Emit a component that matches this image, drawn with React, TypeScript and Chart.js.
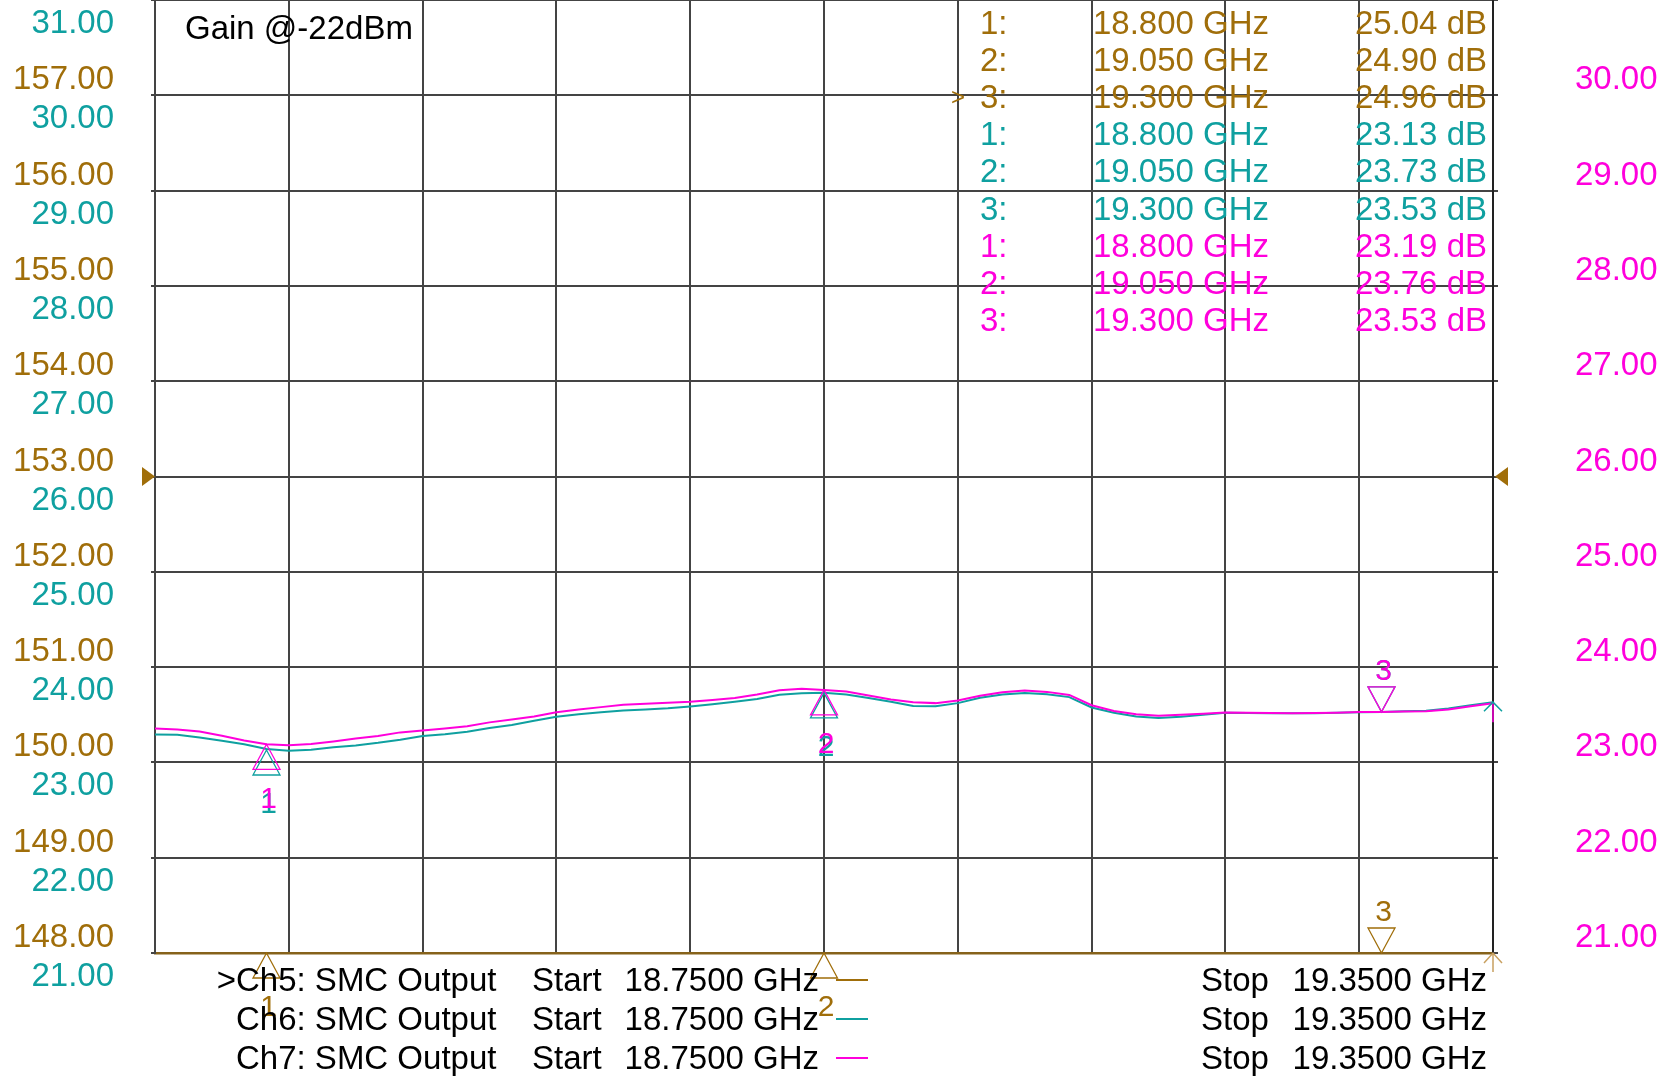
import { useEffect, useRef } from 'react';
import { Chart, registerables } from 'chart.js';

Chart.register(...registerables);

// ---------- data ----------
const freqGHz = [
  18.75, 18.76, 18.77, 18.78, 18.79, 18.80, 18.81, 18.82, 18.83, 18.84,
  18.85, 18.86, 18.87, 18.88, 18.89, 18.90, 18.91, 18.92, 18.93, 18.94,
  18.95, 18.96, 18.97, 18.98, 18.99, 19.00, 19.01, 19.02, 19.03, 19.04,
  19.05, 19.06, 19.07, 19.08, 19.09, 19.10, 19.11, 19.12, 19.13, 19.14,
  19.15, 19.16, 19.17, 19.18, 19.19, 19.20, 19.21, 19.22, 19.23, 19.24,
  19.25, 19.26, 19.27, 19.28, 19.29, 19.30, 19.31, 19.32, 19.33, 19.34,
  19.35,
];
const ch6GainDb = [
  23.293, 23.290, 23.262, 23.226, 23.190, 23.140, 23.122, 23.133, 23.158, 23.178,
  23.205, 23.238, 23.278, 23.296, 23.322, 23.360, 23.392, 23.438, 23.480, 23.505,
  23.527, 23.545, 23.556, 23.568, 23.587, 23.610, 23.636, 23.666, 23.710, 23.726,
  23.730, 23.713, 23.676, 23.636, 23.592, 23.590, 23.622, 23.678, 23.712, 23.727,
  23.715, 23.685, 23.576, 23.520, 23.482, 23.466, 23.480, 23.500, 23.522, 23.519,
  23.517, 23.516, 23.517, 23.520, 23.527, 23.530, 23.536, 23.542, 23.566, 23.600,
  23.632,
];
const ch7GainDb = [
  23.356, 23.345, 23.325, 23.280, 23.230, 23.190, 23.180, 23.194, 23.220, 23.250,
  23.277, 23.315, 23.335, 23.356, 23.380, 23.420, 23.450, 23.482, 23.526, 23.556,
  23.580, 23.604, 23.616, 23.625, 23.636, 23.655, 23.676, 23.712, 23.756, 23.772,
  23.760, 23.745, 23.702, 23.660, 23.630, 23.622, 23.650, 23.700, 23.736, 23.755,
  23.740, 23.708, 23.600, 23.540, 23.505, 23.490, 23.500, 23.510, 23.524, 23.520,
  23.518, 23.517, 23.518, 23.521, 23.528, 23.530, 23.535, 23.538, 23.556, 23.590,
  23.622,
];
const xGridTicks = [18.75, 18.81, 18.87, 18.93, 18.99, 19.05, 19.11, 19.17, 19.23, 19.29, 19.35];
const dbTicks = [21, 22, 23, 24, 25, 26, 27, 28, 29, 30, 31];
const ch5Ticks = [148, 149, 150, 151, 152, 153, 154, 155, 156, 157, 158];
const refLevelDb = 26;

const markerFreqs = [18.8, 19.05, 19.3];
const ch5Markers = [25.04, 24.9, 24.96];
const ch6Markers = [23.13, 23.73, 23.53];
const ch7Markers = [23.19, 23.76, 23.53];
const activeMarker = 3;

const titleText = 'Gain @-22dBm';
const channelNames = ['Ch5: SMC Output', 'Ch6: SMC Output', 'Ch7: SMC Output'];
const activeChannel = 0;
const startGHz = 18.75;
const stopGHz = 19.35;

// ---------- styles ----------
const FONT = '"Liberation Sans", Arial, sans-serif';
const TEAL = '#0fa0a0';
const MAG = '#ff00dc';
const BROWN = '#a06e0a';
const BROWN_AXIS = '#86621a';
const GRID = '#444444';

const overlay = {
  id: 'vnaOverlay',
  afterLayout(chart: any) {
    // let the Ch5 axis share the Ch6 axis' box so its labels are not clipped away
    const s5 = chart.scales.y5;
    const sT = chart.scales.y;
    if (s5 && sT) {
      s5.left = sT.left;
      s5.right = sT.right;
      s5.width = sT.right - sT.left;
    }
  },
  afterDraw(chart: any) {
    const ctx: CanvasRenderingContext2D = chart.ctx;
    const xs = chart.scales.x;
    const yT = chart.scales.y;
    const yM = chart.scales.yM;
    const y5 = chart.scales.y5;
    const area = chart.chartArea;
    ctx.save();
    ctx.textBaseline = 'middle';

    // title
    ctx.font = `33px ${FONT}`;
    ctx.fillStyle = '#000';
    ctx.textAlign = 'left';
    ctx.fillText(titleText, 185, 30);

    // marker table
    const groups = [
      { c: BROWN, v: ch5Markers },
      { c: TEAL, v: ch6Markers },
      { c: MAG, v: ch7Markers },
    ];
    let row = 0;
    groups.forEach((g, gi) => {
      g.v.forEach((val, i) => {
        const y = 24.5 + row * 37.2;
        ctx.font = `33px ${FONT}`;
        ctx.fillStyle = g.c;
        ctx.textAlign = 'left';
        ctx.fillText(`${i + 1}:`, 980, y);
        ctx.fillText(`${markerFreqs[i].toFixed(3)} GHz`, 1093, y);
        ctx.textAlign = 'right';
        ctx.fillText(`${val.toFixed(2)} dB`, 1487, y);
        if (gi === activeChannel && i === activeMarker - 1) {
          ctx.font = `24px ${FONT}`;
          ctx.textAlign = 'left';
          ctx.fillText('>', 951, y - 1);
        }
        row++;
      });
    });

    // reference level arrows
    const yRef = yT.getPixelForValue(refLevelDb);
    ctx.fillStyle = BROWN;
    ctx.beginPath();
    ctx.moveTo(area.left - 13, yRef - 9.5);
    ctx.lineTo(area.left - 13, yRef + 9.5);
    ctx.lineTo(area.left, yRef);
    ctx.closePath();
    ctx.fill();
    ctx.beginPath();
    ctx.moveTo(area.right + 15, yRef - 9.5);
    ctx.lineTo(area.right + 15, yRef + 9.5);
    ctx.lineTo(area.right + 2, yRef);
    ctx.closePath();
    ctx.fill();

    // markers
    const tri = (x: number, yA: number, up: boolean, color: string) => {
      const h = 25, w = 13.5;
      const yb = up ? yA + h : yA - h;
      ctx.beginPath();
      ctx.moveTo(x, yA);
      ctx.lineTo(x - w, yb);
      ctx.lineTo(x + w, yb);
      ctx.closePath();
      ctx.strokeStyle = color;
      ctx.lineWidth = 1.3;
      ctx.stroke();
    };
    const drawMarkers = (vals: number[], scale: any, color: string) => {
      vals.forEach((v, i) => {
        const x = xs.getPixelForValue(markerFreqs[i]);
        let y = scale.getPixelForValue(v);
        y = Math.max(area.top, Math.min(area.bottom, y));
        const up = i !== activeMarker - 1;
        tri(x, y, up, color);
        ctx.font = `30px ${FONT}`;
        ctx.fillStyle = color;
        ctx.textAlign = 'center';
        ctx.fillText(String(i + 1), x + 2, up ? y + 55 : y - 40);
      });
    };
    drawMarkers(ch5Markers, y5, BROWN);
    drawMarkers(ch6Markers, yT, TEAL);
    drawMarkers(ch7Markers, yM, MAG);

    // end-of-trace indicators
    const last = freqGHz.length - 1;
    const ex = xs.getPixelForValue(freqGHz[last]);
    const ey = yT.getPixelForValue(ch6GainDb[last]);
    ctx.lineWidth = 1.5;
    ctx.strokeStyle = MAG;
    ctx.beginPath();
    ctx.moveTo(ex, ey);
    ctx.lineTo(ex, ey + 20);
    ctx.stroke();
    ctx.strokeStyle = TEAL;
    ctx.beginPath();
    ctx.moveTo(ex - 9, ey + 9);
    ctx.lineTo(ex, ey);
    ctx.lineTo(ex + 9, ey + 9);
    ctx.stroke();
    ctx.strokeStyle = '#c8a060';
    ctx.beginPath();
    ctx.moveTo(ex - 9, area.bottom + 10);
    ctx.lineTo(ex, area.bottom);
    ctx.lineTo(ex + 9, area.bottom + 10);
    ctx.moveTo(ex, area.bottom);
    ctx.lineTo(ex, area.bottom + 19);
    ctx.stroke();

    // bottom channel text
    const rowsY = [982, 1021, 1060];
    const colors = [BROWN, TEAL, MAG];
    channelNames.forEach((name, i) => {
      const y = rowsY[i];
      ctx.font = `33px ${FONT}`;
      ctx.fillStyle = '#000';
      ctx.textAlign = 'right';
      if (i === activeChannel) ctx.fillText('>', 236, y);
      ctx.textAlign = 'left';
      ctx.fillText(name, 236, y);
      ctx.fillText('Start', 532, y);
      ctx.textAlign = 'right';
      ctx.fillText(`${startGHz.toFixed(4)} GHz`, 819, y);
      ctx.textAlign = 'left';
      ctx.fillText('Stop', 1201, y);
      ctx.textAlign = 'right';
      ctx.fillText(`${stopGHz.toFixed(4)} GHz`, 1487, y);
      ctx.strokeStyle = colors[i];
      ctx.lineWidth = 2;
      ctx.beginPath();
      ctx.moveTo(836, y - 2);
      ctx.lineTo(868, y - 2);
      ctx.stroke();
    });

    ctx.restore();
  },
};

const fmt2 = (v: any) => Number(v).toFixed(2);

const zeroPad = (s: any) => {
  s.paddingTop = 0;
  s.paddingBottom = 0;
  s.paddingLeft = 0;
  s.paddingRight = 0;
};

export default function App() {
  const ref = useRef<HTMLCanvasElement>(null);
  useEffect(() => {
    document.body.style.margin = '0';
    const canvas = ref.current!;
    const chart = new Chart(canvas, {
      type: 'line',
      data: {
        datasets: [
          {
            label: 'Ch7',
            data: freqGHz.map((f, i) => ({ x: f, y: ch7GainDb[i] })),
            borderColor: MAG,
            borderWidth: 2,
            pointRadius: 0,
            yAxisID: 'yM',
            order: 0,
          },
          {
            label: 'Ch6',
            data: freqGHz.map((f, i) => ({ x: f, y: ch6GainDb[i] })),
            borderColor: TEAL,
            borderWidth: 2,
            pointRadius: 0,
            yAxisID: 'y',
            order: 1,
          },
        ],
      },
      options: {
        responsive: false,
        animation: false,
        devicePixelRatio: 1,
        layout: { padding: 0 },
        plugins: {
          legend: { display: false },
          tooltip: { enabled: false },
          title: { display: false },
        },
        elements: { line: { tension: 0 } },
        scales: {
          x: {
            type: 'linear',
            position: 'bottom',
            min: startGHz,
            max: stopGHz,
            afterBuildTicks: (s: any) => {
              s.ticks = xGridTicks.map((v) => ({ value: v }));
            },
            ticks: { display: false },
            grid: { color: GRID, lineWidth: 2, drawTicks: false },
            border: { color: BROWN_AXIS, width: 2.5 },
            afterFit: (s: any) => {
              s.height = 125;
              zeroPad(s);
            },
          },
          y5: {
            type: 'linear',
            position: 'left',
            weight: 0,
            min: 148,
            max: 158,
            afterBuildTicks: (s: any) => {
              s.ticks = ch5Ticks.map((v) => ({ value: v }));
            },
            ticks: {
              color: BROWN,
              font: { family: FONT, size: 33 },
              padding: 41,
              labelOffset: -15,
              autoSkip: false,
              callback: fmt2,
            },
            grid: { display: false, drawTicks: false, drawOnChartArea: false },
            border: { display: false },
            afterFit: (s: any) => {
              s.width = 0;
              zeroPad(s);
            },
          },
          y: {
            type: 'linear',
            position: 'left',
            weight: 2,
            min: 21,
            max: 31,
            afterBuildTicks: (s: any) => {
              s.ticks = dbTicks.map((v) => ({ value: v }));
            },
            ticks: {
              color: TEAL,
              font: { family: FONT, size: 33 },
              padding: 37,
              labelOffset: 24,
              autoSkip: false,
              callback: fmt2,
            },
            grid: { color: GRID, lineWidth: 2, tickLength: 4, drawTicks: true },
            border: { color: GRID, width: 2 },
            afterFit: (s: any) => {
              s.width = 155;
              zeroPad(s);
            },
          },
          yM: {
            type: 'linear',
            position: 'right',
            min: 21,
            max: 31,
            afterBuildTicks: (s: any) => {
              s.ticks = dbTicks.map((v) => ({ value: v }));
            },
            ticks: {
              color: MAG,
              font: { family: FONT, size: 33 },
              padding: 77,
              labelOffset: -15,
              autoSkip: false,
              callback: fmt2,
            },
            grid: { color: GRID, lineWidth: 2, tickLength: 5, drawTicks: true, drawOnChartArea: false },
            border: { color: '#222222', width: 2 },
            afterFit: (s: any) => {
              s.width = 182;
              zeroPad(s);
            },
          },
        },
      },
      plugins: [overlay],
    } as any);
    return () => chart.destroy();
  }, []);
  return (
    <div style={{ width: 1675, height: 1078, background: '#fff' }}>
      <canvas ref={ref} width={1675} height={1078} style={{ display: 'block' }} />
    </div>
  );
}
